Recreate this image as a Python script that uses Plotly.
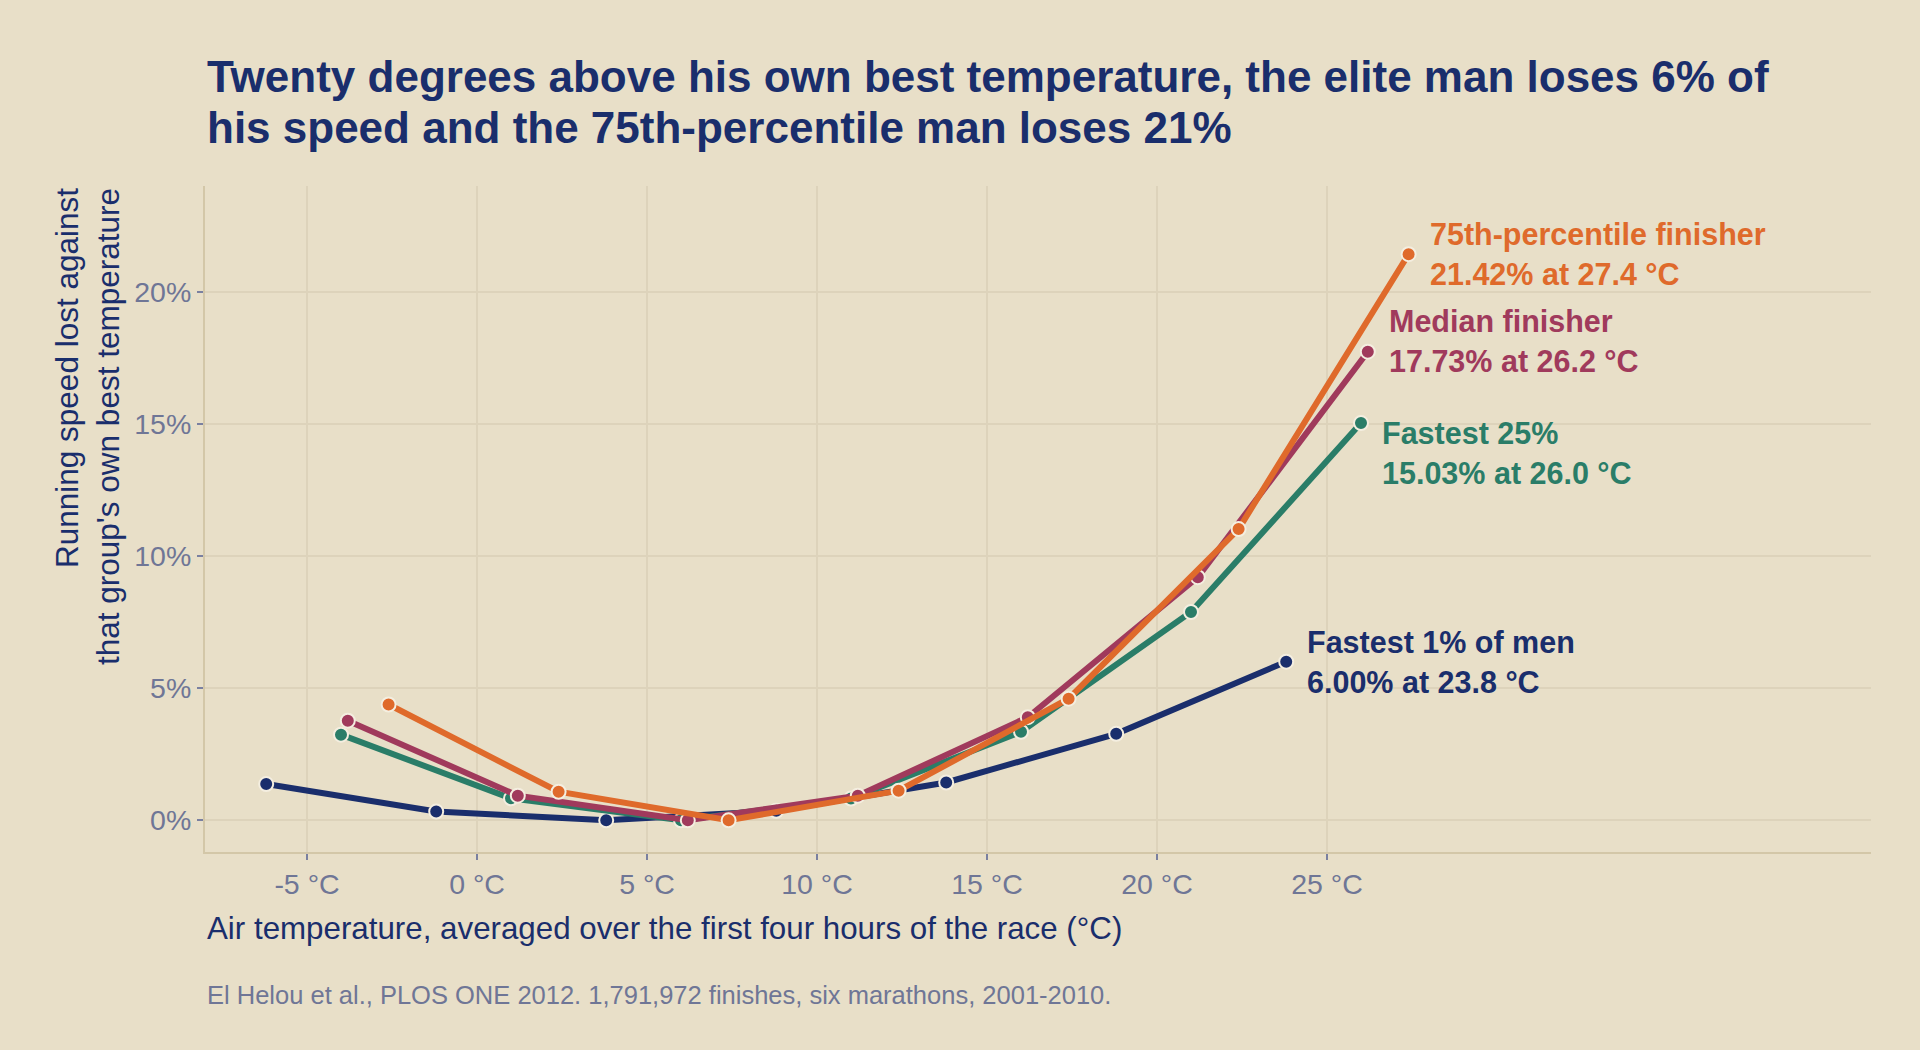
import plotly.graph_objects as go

# ---- data ----
series_names = ["Fastest 1% of men", "Fastest 25%", "Median finisher", "75th-percentile finisher"]
series_colors = ["#1a2e6c", "#2a7d68", "#a03a5c", "#df6a2b"]

temps_fastest1 = [-6.2, -1.2, 3.8, 8.8, 13.8, 18.8, 23.8]
loss_fastest1 = [1.37, 0.33, 0.0, 0.36, 1.43, 3.27, 6.00]

temps_fastest25 = [-4.0, 1.0, 6.0, 11.0, 16.0, 21.0, 26.0]
loss_fastest25 = [3.24, 0.83, 0.0, 0.82, 3.35, 7.88, 15.03]

temps_median = [-3.8, 1.2, 6.2, 11.2, 16.2, 21.2, 26.2]
loss_median = [3.77, 0.93, 0.0, 0.93, 3.90, 9.20, 17.73]

temps_p75 = [-2.6, 2.4, 7.4, 12.4, 17.4, 22.4, 27.4]
loss_p75 = [4.38, 1.08, 0.0, 1.12, 4.60, 11.02, 21.42]

x_tickvals = [-5, 0, 5, 10, 15, 20, 25]
x_ticktext = ["-5 °C", "0 °C", "5 °C", "10 °C", "15 °C", "20 °C", "25 °C"]
y_tickvals = [0, 5, 10, 15, 20]
y_ticktext = ["0%", "5%", "10%", "15%", "20%"]

title_lines = [
    "Twenty degrees above his own best temperature, the elite man loses 6% of",
    "his speed and the 75th-percentile man loses 21%",
]

label_yshift = [0, -30, 11, 0]

BG = "#e8dfc8"
NAVY = "#1a2e6c"
TICK = "#6f7696"
GRID = "#ddd3bb"
AXIS = "#d3c7a8"
FONT = "Liberation Sans, Arial, sans-serif"

all_temps = [temps_fastest1, temps_fastest25, temps_median, temps_p75]
all_loss = [loss_fastest1, loss_fastest25, loss_median, loss_p75]

fig = go.Figure()
for name, color, xs, ys in zip(series_names, series_colors, all_temps, all_loss):
    fig.add_trace(go.Scatter(
        x=xs, y=ys, name=name, mode="lines+markers",
        line=dict(color=color, width=6),
        marker=dict(color=color, size=14, line=dict(color="#f4eee0", width=2)),
        showlegend=False, hoverinfo="x+y+name",
    ))

# end labels
for name, color, xs, ys, ysh in zip(series_names, series_colors, all_temps, all_loss, label_yshift):
    fig.add_annotation(
        x=xs[-1], y=ys[-1], xref="x", yref="y",
        text=f"<b>{name}<br>{ys[-1]:.2f}% at {xs[-1]:.1f} °C</b>",
        showarrow=False, xanchor="left", yanchor="middle", align="left",
        xshift=19, yshift=ysh,
        font=dict(family=FONT, size=30.5, color=color),
    )

# title (two lines placed separately for tighter line spacing)
for line, ypos in zip(title_lines, [1.1637, 1.0871]):
    fig.add_annotation(
        xref="paper", yref="paper", x=0, y=ypos, xanchor="left", yanchor="middle",
        text=f"<b>{line}</b>", showarrow=False, align="left",
        font=dict(family=FONT, size=44, color=NAVY),
    )
# y-axis title
fig.add_annotation(
    xref="paper", yref="paper", x=-0.0705, y=1.0, xanchor="center", yanchor="top",
    text="Running speed lost against<br>that group's own best temperature",
    textangle=-90, showarrow=False, align="right",
    font=dict(family=FONT, size=31.5, color=NAVY),
)
# x-axis title
fig.add_annotation(
    xref="paper", yref="paper", x=0, y=-0.1156, xanchor="left", yanchor="middle",
    text="Air temperature, averaged over the first four hours of the race (°C)",
    showarrow=False, align="left",
    font=dict(family=FONT, size=31.3, color=NAVY),
)
# source
fig.add_annotation(
    xref="paper", yref="paper", x=0, y=-0.214, xanchor="left", yanchor="middle",
    text="El Helou et al., PLOS ONE 2012. 1,791,972 finishes, six marathons, 2001-2010.",
    showarrow=False, align="left",
    font=dict(family=FONT, size=25.5, color=TICK),
)

fig.update_layout(
    width=1920, height=1050,
    margin=dict(l=205, r=49, t=186, b=198),
    paper_bgcolor=BG, plot_bgcolor=BG,
    font=dict(family=FONT, color=TICK),
    xaxis=dict(
        range=[-8, 41], tickvals=x_tickvals, ticktext=x_ticktext,
        showgrid=True, gridcolor=GRID, gridwidth=1.5,
        zeroline=False, showline=True, linecolor=AXIS, linewidth=2,
        ticks="outside", ticklen=6, tickwidth=2, tickcolor="#7a80a0",
        tickfont=dict(family=FONT, size=28.5, color=TICK),
    ),
    yaxis=dict(
        range=[-1.2, 24], tickvals=y_tickvals, ticktext=y_ticktext,
        showgrid=True, gridcolor=GRID, gridwidth=1.5,
        zeroline=False, showline=True, linecolor=AXIS, linewidth=2,
        ticks="outside", ticklen=6, tickwidth=2, tickcolor="#7a80a0",
        tickfont=dict(family=FONT, size=28.5, color=TICK),
    ),
)

fig.write_html("out.html")
